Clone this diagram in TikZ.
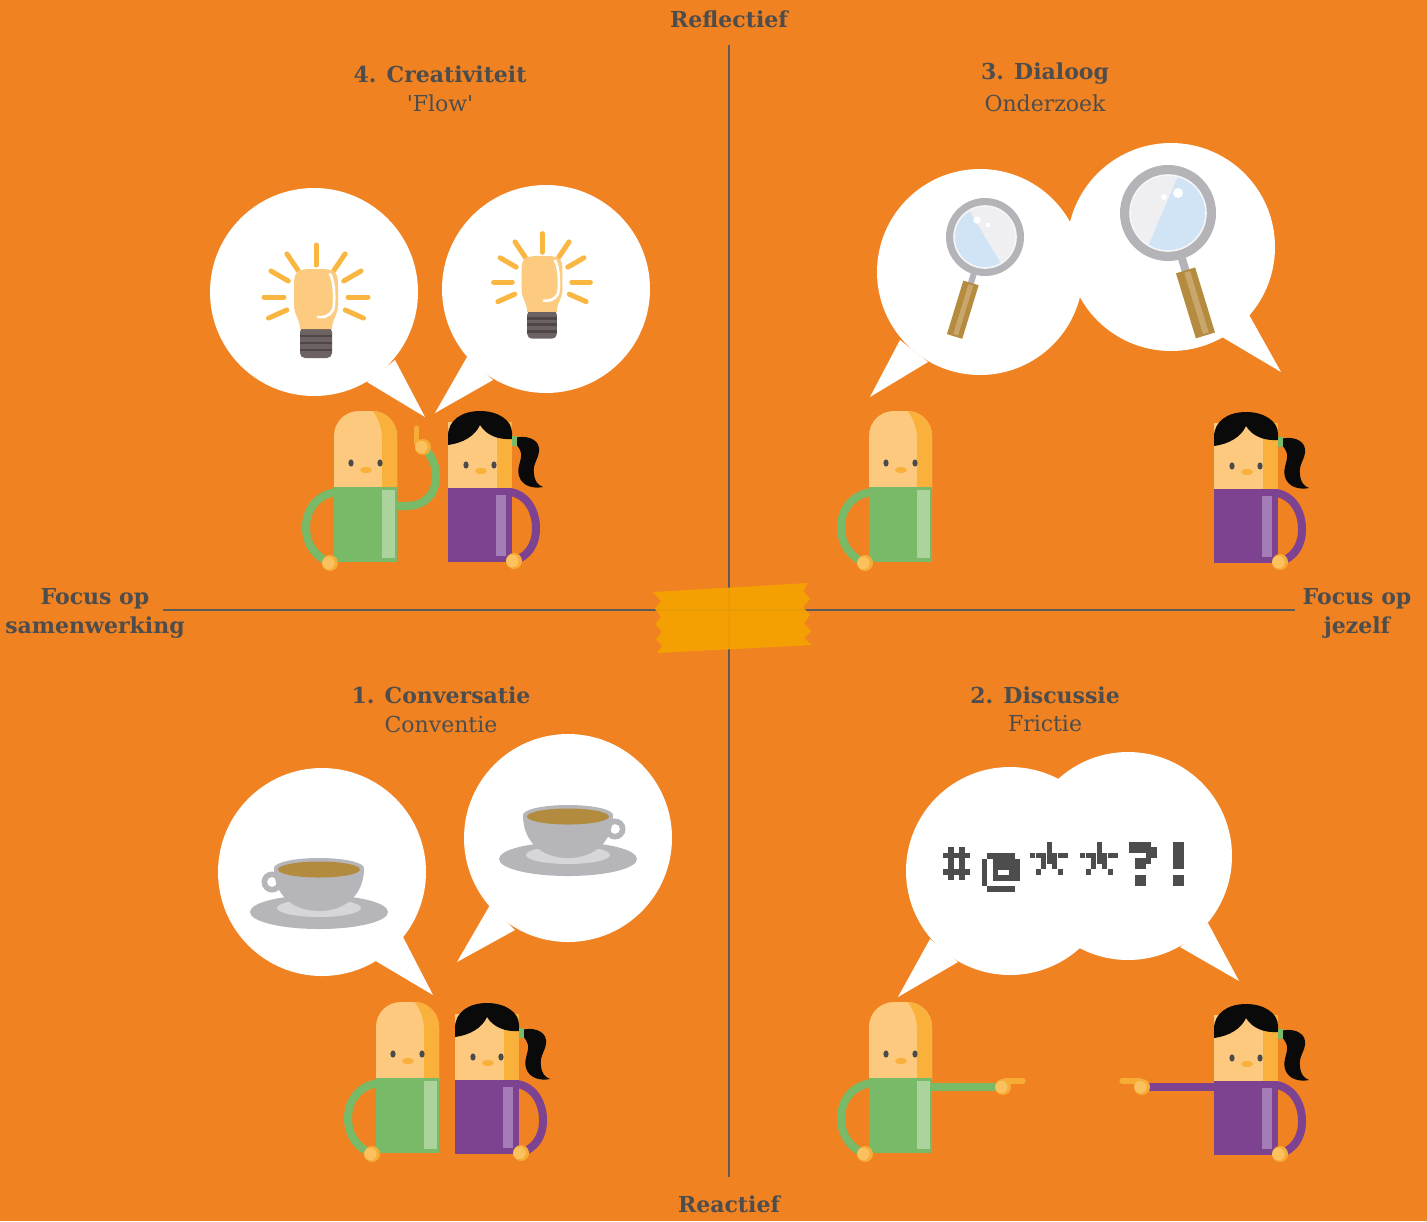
\documentclass[tikz,border=0pt]{standalone}
\usepackage{fontspec}
\setmainfont{DejaVu Serif}[Ligatures=TeXOff]
\definecolor{bg}{HTML}{F08222}
\definecolor{axisc}{HTML}{5B5B5B}
\definecolor{txt}{HTML}{4D4D4D}
\definecolor{tapec}{HTML}{F5A300}
\definecolor{skin}{HTML}{FCC97E}
\definecolor{skinsh}{HTML}{F9B13C}
\definecolor{handc}{HTML}{F7AC36}
\definecolor{handlt}{HTML}{FBC15E}
\definecolor{eyec}{HTML}{4A4A4A}
\definecolor{shirtg}{HTML}{78BA68}
\definecolor{shirtglt}{HTML}{ACD39B}
\definecolor{shirtp}{HTML}{7D4290}
\definecolor{shirtplt}{HTML}{A47DB6}
\definecolor{hairc}{HTML}{0A0A0A}
\definecolor{bulbc}{HTML}{FDCB80}
\definecolor{rayc}{HTML}{F9B641}
\definecolor{socketc}{HTML}{6C6262}
\definecolor{ribc}{HTML}{4F4646}
\definecolor{ringc}{HTML}{B3B3B8}
\definecolor{glassc}{HTML}{EFEFF2}
\definecolor{glassblue}{HTML}{D0E4F6}
\definecolor{handlec}{HTML}{B58C3F}
\definecolor{handlelt}{HTML}{C9A66C}
\definecolor{cupc}{HTML}{B5B5BA}
\definecolor{saucerlt}{HTML}{D6D6DA}
\definecolor{coffee}{HTML}{B38B3E}
\definecolor{pixc}{HTML}{4D4D4D}

% a round hand with a lighter inner part
\newcommand\handat[2]{%
  \fill[handc] (#1,#2) circle[radius=8];
  \fill[handlt] ({#1-1.6},#2) circle[radius=6.2];}
% one pixel-font glyph: top-left corner and a list of column/row cells
\newcommand\pixglyph[3]{%
  \foreach \cc/\rr in {#3}{\fill[pixc] ({#1+\cc*5.5+0.15},{#2+\rr*5.5+0.15}) rectangle ++(5.2,5.2);}}

\tikzset{
  lbl/.style={text=txt, font=\fontsize{11}{14.5}\selectfont\bfseries, inner sep=0pt},
  sublbl/.style={text=txt, font=\fontsize{11}{14.5}\selectfont, inner sep=0pt},
  axisline/.style={draw=axisc, line width=1.3pt},
  bubble/.style={fill=white},
  armg/.style={draw=shirtg, line width=4pt},
  armp/.style={draw=shirtp, line width=4pt},
  fingerc/.style={draw=handc, line width=2.6pt, line cap=round},
  % man: origin at the top-left corner of the shirt
  man/.pic={
    \draw[armg] (3,5) .. controls (-16,7) and (-28,22) .. (-28,40) .. controls (-28,58) and (-18,70) .. (-4,76);
    \fill[skin] (0,2) -- (0,-51) .. controls (0,-65) and (11,-76) .. (25,-76) -- (38,-76) .. controls (52,-76) and (63,-65) .. (63,-51) -- (63,2) -- cycle;
    \begin{scope}
      \clip (0,2) -- (0,-51) .. controls (0,-65) and (11,-76) .. (25,-76) -- (38,-76) .. controls (52,-76) and (63,-65) .. (63,-51) -- (63,2) -- cycle;
      \fill[skinsh] (48,3) -- (48,-48) .. controls (48,-60) and (44,-70) .. (37,-78) -- (70,-78) -- (70,3) -- cycle;
    \end{scope}
    \fill[eyec] (17,-24) ellipse[x radius=2.6, y radius=3.6];
    \fill[eyec] (46,-24) ellipse[x radius=2.6, y radius=3.6];
    \fill[skinsh] (32,-17) ellipse[x radius=6, y radius=3];
    \fill[shirtg] (0,0) rectangle (63,75);
    \fill[shirtglt] (48,3) rectangle (61,71);
    \handat{-4}{76}
  },
  % woman: origin at the top-left corner of the shirt
  woman/.pic={
    \draw[armp] (62,4) .. controls (78,6) and (88,22) .. (88,40) .. controls (88,57) and (80,68) .. (66,73);
    \fill[skin] (0,-66) rectangle (64,1);
    \fill[skinsh] (49,-66) rectangle (64,1);
    \fill[hairc] (0,-43) -- (0,-52) .. controls (0,-68) and (14,-77) .. (32,-77) .. controls (50,-77) and (64,-68) .. (64,-55) -- (64,-49) .. controls (50,-48) and (38,-53) .. (32,-63) .. controls (27,-52) and (15,-45) .. (0,-43) -- cycle;
    \fill[hairc] (67,-50) .. controls (76,-53) and (90,-50) .. (91,-40) .. controls (92,-30) and (84,-25) .. (86,-14) .. controls (87,-6) and (90,-3) .. (95,-1) .. controls (85,1) and (74,-2) .. (71,-12) .. controls (68,-22) and (76,-30) .. (72,-38) .. controls (70,-42) and (68,-44) .. (67,-44) -- cycle;
    \fill[shirtg] (63.5,-52) rectangle (68.5,-42);
    \fill[eyec] (18,-23) ellipse[x radius=2.6, y radius=3.6];
    \fill[eyec] (46,-23) ellipse[x radius=2.6, y radius=3.6];
    \fill[skinsh] (33,-17) ellipse[x radius=6, y radius=3];
    \fill[shirtp] (0,0) rectangle (64,74);
    \fill[shirtplt] (48,7) rectangle (58,68);
    \handat{66}{73}
  },
  raisearm/.pic={
    \draw[armg] (58,19) -- (72,19) .. controls (92,19) and (102,6) .. (102,-10) .. controls (102,-24) and (96,-34) .. (89,-40);
    \draw[fingerc] (82.5,-44) -- (82.5,-59);
    \handat{89}{-40}
  },
  pointright/.pic={
    \draw[armg] (58,9) -- (131,9);
    \draw[fingerc] (136,3) -- (154,3);
    \handat{134}{9}
  },
  pointleft/.pic={
    \draw[armp] (6,6) -- (-66,6);
    \draw[fingerc] (-74,0) -- (-92,0);
    \handat{-72}{6}
  },
  % light bulb: origin at the middle of the glass
  bulb/.pic={
    \foreach \a in {0,-30,-56,-90,-124,-150,180,156,24}
      \draw[rayc, line width=2.5pt, line cap=round] (\a:32) -- (\a:52);
    \fill[socketc, rounded corners=2.5pt] (-16,30) rectangle (16,61);
    \foreach \yy in {39,46,53}
      \draw[ribc, line width=1.3pt] (-16,\yy) -- (16,\yy);
    \fill[bulbc] (-22,-12) .. controls (-22,-27) and (-18,-28) .. (0,-28) .. controls (18,-28) and (22,-27) .. (22,-12) -- (22,8) .. controls (22,18) and (16,22) .. (16,32) -- (-16,32) .. controls (-16,22) and (-22,18) .. (-22,8) -- cycle;
    \draw[white, line width=1.3pt, line cap=round] (14,-23) .. controls (19,-16) and (19,8) .. (17,13) .. controls (14,19) and (7,21) .. (2,20);
  },
  % cup and saucer: origin at the middle of the rim
  cup/.pic={
    \fill[cupc] (0,44) ellipse[x radius=69, y radius=17];
    \fill[saucerlt] (0,40) ellipse[x radius=42, y radius=9];
    \fill[cupc, even odd rule] (-47,14) circle[radius=10.5] (-47,14) circle[radius=5];
    \fill[cupc] (-45,0) .. controls (-45,28) and (-25,43) .. (0,43) .. controls (25,43) and (45,28) .. (45,0) -- cycle;
    \fill[cupc] (0,0) ellipse[x radius=45, y radius=10];
    \fill[coffee] (0,1.5) ellipse[x radius=41, y radius=8];
  }
}

\begin{document}
\begin{tikzpicture}[x=0.5pt,y=-0.5pt]
\fill[bg] (0,0) rectangle (1427,1221);
\useasboundingbox (0,0) rectangle (1427,1221);

% axes
\coordinate (vtop) at (729,45);
\coordinate (vbot) at (729,1177);
\coordinate (hleft) at (163,610);
\coordinate (hright) at (1295,610);
\draw[axisline] (vtop) -- (vbot);
\draw[axisline] (hleft) -- (hright);

% tape across the crossing
\fill[tapec, opacity=0.92] (653,592) -- (808,583) -- (803,591) -- (810,599) -- (803,607) -- (810,615) -- (804,623) -- (811,631) -- (804,638) -- (812,645) -- (657,653) -- (662,646) -- (656,639) -- (662,632) -- (655,624) -- (661,617) -- (655,609) -- (661,601) -- cycle;

% axis labels
\node[lbl] (refl) at (729,19) {Reflectief};
\node[lbl] (reac) at (729,1204) {Reactief};
\node[lbl, align=center] (fsamen) at (95,613) {Focus op\\samenwerking};
\node[lbl, align=center] (fjezelf) at (1357,613) {Focus op\\jezelf};

% quadrant titles
\node[lbl] (t4) at (440,74) {4. Creativiteit};
\node[sublbl] (s4) at (440,103) {'Flow'};
\node[lbl] (t3) at (1045,74) {3. Dialoog};
\node[sublbl] (s3) at (1045,103) {Onderzoek};
\node[lbl] (t1) at (441,695) {1. Conversatie};
\node[sublbl] (s1) at (441,724) {Conventie};
\node[lbl] (t2) at (1045,695) {2. Discussie};
\node[sublbl] (s2) at (1045,724) {Frictie};

% ---- 4. Creativiteit: speech bubbles with light bulbs
\fill[bubble] (314,292) circle[radius=104];
\fill[bubble] (395,360) -- (425,417) -- (367,382) -- cycle;
\fill[bubble] (546,289) circle[radius=104];
\fill[bubble] (467,357) -- (435,413) -- (493,380) -- cycle;
\pic at (316,297) {bulb};
\pic[scale=0.93] at (542,282) {bulb};
\pic at (334,487) {raisearm};
\pic at (334,487) {man};
\pic at (448,488) {woman};

% ---- 3. Dialoog: speech bubbles with magnifying glasses
\fill[bubble] (980,272) circle[radius=103];
\fill[bubble] (900,340) -- (870,397) -- (928,362) -- cycle;
\fill[bubble] (1171,247) circle[radius=104];
\fill[bubble] (1248,313) -- (1281,372) -- (1222,337) -- cycle;
\begin{scope}[shift={(985,237)}]
  \begin{scope}[rotate=-17]
    \fill[ringc] (-3,36) rectangle (3,50);
    \fill[handlec] (-8,48) rectangle (8,104);
    \fill[handlelt] (-2,50) rectangle (3,102);
  \end{scope}
  \fill[ringc] (0,0) circle[radius=39];
  \fill[glassc] (0,0) circle[radius=31];
  \begin{scope}
    \clip (0,0) circle[radius=31];
    \fill[glassblue] (-33,-55) -- (33,55) -- (-60,55) -- (-60,-55) -- cycle;
  \end{scope}
  \draw[white!88!ringc, line width=0.8pt] (0,0) circle[radius=31];
  \fill[white] (-8,-17) circle[radius=3.6];
  \fill[white] (3,-12) circle[radius=2.4];
\end{scope}
\begin{scope}[shift={(1168,213)}]
  \begin{scope}[rotate=17]
    \fill[ringc] (-4,44) rectangle (4,62);
    \fill[handlec] (-10,60) rectangle (10,128);
    \fill[handlelt] (-2,62) rectangle (4,126);
  \end{scope}
  \fill[ringc] (0,0) circle[radius=48];
  \fill[glassc] (0,0) circle[radius=38];
  \begin{scope}
    \clip (0,0) circle[radius=38];
    \fill[glassblue] (27,-77) -- (-33,64) -- (70,64) -- (70,-77) -- cycle;
  \end{scope}
  \draw[white!88!ringc, line width=0.8pt] (0,0) circle[radius=38];
  \fill[white] (10,-20) circle[radius=5];
  \fill[white] (-4,-16) circle[radius=3];
\end{scope}
\pic at (869,487) {man};
\pic at (1214,489) {woman};

% ---- 1. Conversatie: speech bubbles with cups of coffee
\fill[bubble] (322,872) circle[radius=104];
\fill[bubble] (402,935) -- (433,995) -- (374,960) -- cycle;
\fill[bubble] (568,838) circle[radius=104];
\fill[bubble] (490,905) -- (457,962) -- (515,930) -- cycle;
\pic at (319,868) {cup};
\pic[xscale=-1] at (568,815) {cup};
\pic at (376,1078) {man};
\pic at (455,1080) {woman};

% ---- 2. Discussie: one double bubble with pixel swearing
\fill[bubble] (1010,871) circle[radius=104];
\fill[bubble] (1128,856) circle[radius=104];
\fill[bubble] (930,939) -- (898,997) -- (958,962) -- cycle;
\fill[bubble] (1208,923) -- (1239,981) -- (1180,947) -- cycle;
\pixglyph{942.7}{847.3}{1/0,3/0,0/1,1/1,2/1,3/1,4/1,1/2,3/2,1/3,3/3,0/4,1/4,2/4,3/4,4/4,1/5,3/5}
\pixglyph{981.7}{853.3}{1/0,2/0,3/0,4/0,5/0,0/1,2/1,3/1,4/1,5/1,6/1,0/2,2/2,3/2,4/2,5/2,6/2,0/3,2/3,5/3,6/3,0/4,2/4,3/4,4/4,5/4,6/4,0/5,1/6,2/6,3/6,4/6,5/6}
\pixglyph{1030}{841.7}{3/0,3/1,0/2,1/2,2/2,3/2,4/2,5/2,6/2,2/3,3/3,4/3,2/4,4/4,1/5,5/5}
\pixglyph{1080}{841.7}{3/0,3/1,0/2,1/2,2/2,3/2,4/2,5/2,6/2,2/3,3/3,4/3,2/4,4/4,1/5,5/5}
\pixglyph{1129.3}{841.7}{0/0,1/0,2/0,3/0,0/1,1/1,2/1,3/1,4/1,3/2,4/2,1/3,2/3,3/3,1/4,2/4,1/6,2/6,1/7,2/7}
\pixglyph{1172.7}{841.7}{0/0,1/0,0/1,1/1,0/2,1/2,0/3,1/3,0/4,1/4,0/6,1/6,0/7,1/7}
\pic at (869,1078) {pointright};
\pic at (869,1078) {man};
\pic at (1214,1081) {pointleft};
\pic at (1214,1081) {woman};
\end{tikzpicture}
\end{document}
